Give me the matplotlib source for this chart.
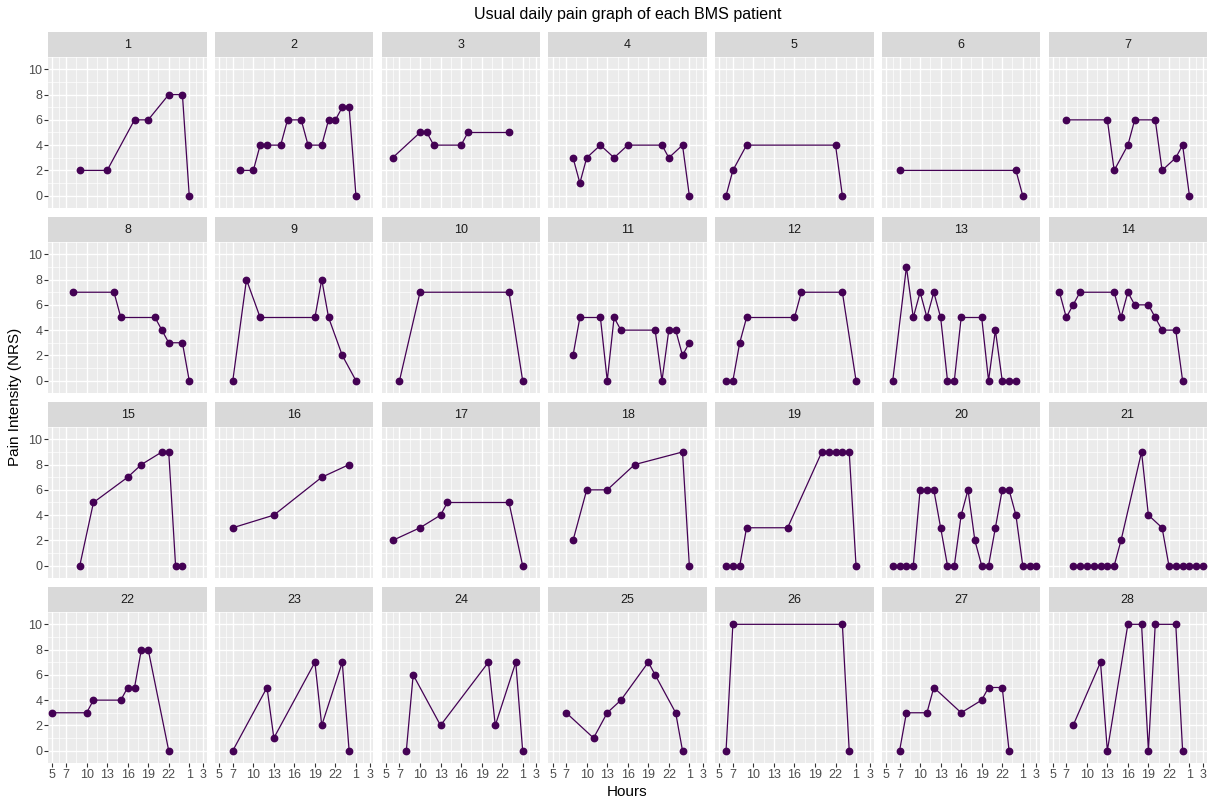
import matplotlib
matplotlib.use("Agg")
import matplotlib.pyplot as plt
from matplotlib.patches import Rectangle

plt.rcParams['font.family'] = ['Liberation Sans', 'DejaVu Sans']

# ---- data: hours (continuous clock, 25 = 1 am, 27 = 3 am) and pain NRS ----
h01 = [9, 13, 17, 19, 22, 24, 25]; p01 = [2, 2, 6, 6, 8, 8, 0]
h02 = [8, 10, 11, 12, 14, 15, 17, 18, 20, 21, 22, 23, 24, 25]; p02 = [2, 2, 4, 4, 4, 6, 6, 4, 4, 6, 6, 7, 7, 0]
h03 = [6, 10, 11, 12, 16, 17, 23]; p03 = [3, 5, 5, 4, 4, 5, 5]
h04 = [8, 9, 10, 12, 14, 16, 21, 22, 24, 25]; p04 = [3, 1, 3, 4, 3, 4, 4, 3, 4, 0]
h05 = [6, 7, 9, 22, 23]; p05 = [0, 2, 4, 4, 0]
h06 = [7, 24, 25]; p06 = [2, 2, 0]
h07 = [7, 13, 14, 16, 17, 20, 21, 23, 24, 25]; p07 = [6, 6, 2, 4, 6, 6, 2, 3, 4, 0]
h08 = [8, 14, 15, 20, 21, 22, 24, 25]; p08 = [7, 7, 5, 5, 4, 3, 3, 0]
h09 = [7, 9, 11, 19, 20, 21, 23, 25]; p09 = [0, 8, 5, 5, 8, 5, 2, 0]
h10 = [7, 10, 23, 25]; p10 = [0, 7, 7, 0]
h11 = [8, 9, 12, 13, 14, 15, 20, 21, 22, 23, 24, 25]; p11 = [2, 5, 5, 0, 5, 4, 4, 0, 4, 4, 2, 3]
h12 = [6, 7, 8, 9, 16, 17, 23, 25]; p12 = [0, 0, 3, 5, 5, 7, 7, 0]
h13 = [6, 8, 9, 10, 11, 12, 13, 14, 15, 16, 19, 20, 21, 22, 23, 24]; p13 = [0, 9, 5, 7, 5, 7, 5, 0, 0, 5, 5, 0, 4, 0, 0, 0]
h14 = [6, 7, 8, 9, 14, 15, 16, 17, 19, 20, 21, 23, 24]; p14 = [7, 5, 6, 7, 7, 5, 7, 6, 6, 5, 4, 4, 0]
h15 = [9, 11, 16, 18, 21, 22, 23, 24]; p15 = [0, 5, 7, 8, 9, 9, 0, 0]
h16 = [7, 13, 20, 24]; p16 = [3, 4, 7, 8]
h17 = [6, 10, 13, 14, 23, 25]; p17 = [2, 3, 4, 5, 5, 0]
h18 = [8, 10, 13, 17, 24, 25]; p18 = [2, 6, 6, 8, 9, 0]
h19 = [6, 7, 8, 9, 15, 20, 21, 22, 23, 24, 25]; p19 = [0, 0, 0, 3, 3, 9, 9, 9, 9, 9, 0]
h20 = [6, 7, 8, 9, 10, 11, 12, 13, 14, 15, 16, 17, 18, 19, 20, 21, 22, 23, 24, 25, 26, 27]
p20 = [0, 0, 0, 0, 6, 6, 6, 3, 0, 0, 4, 6, 2, 0, 0, 3, 6, 6, 4, 0, 0, 0]
h21 = [8, 9, 10, 11, 12, 13, 14, 15, 18, 19, 21, 22, 23, 24, 25, 26, 27]
p21 = [0, 0, 0, 0, 0, 0, 0, 2, 9, 4, 3, 0, 0, 0, 0, 0, 0]
h22 = [5, 10, 11, 15, 16, 17, 18, 19, 22]; p22 = [3, 3, 4, 4, 5, 5, 8, 8, 0]
h23 = [7, 12, 13, 19, 20, 23, 24]; p23 = [0, 5, 1, 7, 2, 7, 0]
h24 = [8, 9, 13, 20, 21, 24, 25]; p24 = [0, 6, 2, 7, 2, 7, 0]
h25 = [7, 11, 13, 15, 19, 20, 23, 24]; p25 = [3, 1, 3, 4, 7, 6, 3, 0]
h26 = [6, 7, 23, 24]; p26 = [0, 10, 10, 0]
h27 = [7, 8, 11, 12, 16, 19, 20, 22, 23]; p27 = [0, 3, 3, 5, 3, 4, 5, 5, 0]
h28 = [8, 12, 13, 16, 18, 19, 20, 23, 24]; p28 = [2, 7, 0, 10, 10, 0, 10, 10, 0]

patients = [str(i) for i in range(1, 29)]
hours_all = [h01, h02, h03, h04, h05, h06, h07, h08, h09, h10, h11, h12, h13, h14,
             h15, h16, h17, h18, h19, h20, h21, h22, h23, h24, h25, h26, h27, h28]
pain_all = [p01, p02, p03, p04, p05, p06, p07, p08, p09, p10, p11, p12, p13, p14,
            p15, p16, p17, p18, p19, p20, p21, p22, p23, p24, p25, p26, p27, p28]

x_breaks = [5, 7, 10, 13, 16, 19, 22, 25, 27]
x_labels = ['5', '7', '10', '13', '16', '19', '22', '1', '3']
y_breaks = [0, 2, 4, 6, 8, 10]

# ---- layout ----
W, H = 1210, 805
fig = plt.figure(figsize=(W / 100, H / 100), dpi=100)
fig.patch.set_facecolor('white')

ncol, nrow = 7, 4
left0, pitch_x, pw = 48.3, 166.7, 158.4
top0, pitch_y, sh, ph = 32.0, 185.0, 24.7, 151.6

col_line = '#440154'
grey30 = '#4D4D4D'

def minor_of(br):
    return [(a + b) / 2 for a, b in zip(br[:-1], br[1:])]

for i, pid in enumerate(patients):
    r, c = divmod(i, ncol)
    x0 = left0 + c * pitch_x
    ys = top0 + r * pitch_y
    yp = ys + sh
    # strip
    sax = fig.add_axes([x0 / W, 1 - (ys + sh) / H, pw / W, sh / H])
    sax.set_facecolor('#D9D9D9')
    sax.set_xticks([]); sax.set_yticks([])
    for s in sax.spines.values():
        s.set_visible(False)
    sax.text(0.5, 0.48, pid, ha='center', va='center', fontsize=9, color='#1A1A1A',
             transform=sax.transAxes)
    # panel
    ax = fig.add_axes([x0 / W, 1 - (yp + ph) / H, pw / W, ph / H])
    ax.set_facecolor('#EBEBEB')
    for s in ax.spines.values():
        s.set_visible(False)
    ax.set_xlim(4.4, 27.55)
    ax.set_ylim(-1, 11)
    ax.set_xticks(x_breaks)
    ax.set_yticks(y_breaks)
    ax.set_xticks(minor_of(x_breaks), minor=True)
    ax.set_yticks([-1, 1, 3, 5, 7, 9, 11], minor=True)
    ax.grid(which='major', color='white', linewidth=1.0)
    ax.grid(which='minor', color='white', linewidth=0.5)
    ax.set_axisbelow(True)
    ax.tick_params(which='minor', length=0)
    ax.tick_params(which='major', length=2.8, width=0.8, color='#333333',
                   labelsize=9, labelcolor=grey30, pad=1.5)
    if r == nrow - 1:
        ax.set_xticklabels(x_labels)
    else:
        ax.tick_params(axis='x', which='major', length=0, labelbottom=False)
    if c == 0:
        ax.set_yticklabels([str(v) for v in y_breaks])
    else:
        ax.tick_params(axis='y', which='major', length=0, labelleft=False)
    ax.plot(hours_all[i], pain_all[i], color=col_line, linewidth=0.9,
            marker='o', markersize=4.6, markerfacecolor=col_line,
            markeredgecolor=col_line, zorder=3)

fig.text(627.5 / W, 1 - 15 / H, 'Usual daily pain graph of each BMS patient',
         ha='center', va='center', fontsize=11.5, color='black')
fig.text(627.5 / W, 1 - 792 / H, 'Hours', ha='center', va='center',
         fontsize=11, color='black')
fig.text(15 / W, 1 - 397 / H, 'Pain Intensity (NRS)', ha='center', va='center',
         rotation=90, fontsize=11, color='black')

fig.savefig('out.png', dpi=100, facecolor='white')
